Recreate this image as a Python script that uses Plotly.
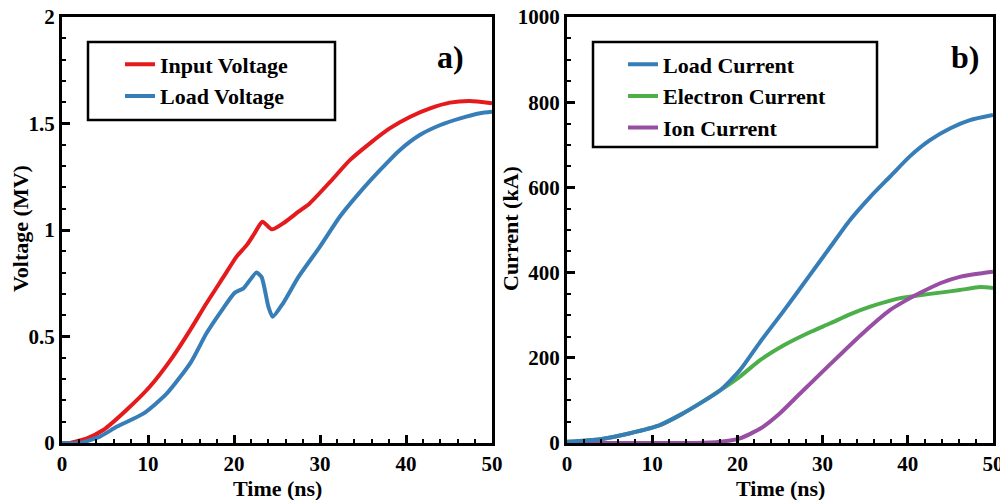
import plotly.graph_objects as go

# ---------------- data ----------------
t_vin = [0, 0.9, 2.9, 4.8, 7.5, 10.2, 12.8, 14.9, 16.8, 18.8, 20.3, 21.5, 22.4, 23.3, 24.4, 25.7, 27.5, 28.8,
         31.2, 33.5, 35.8, 38.1, 40.5, 42.8, 45.1, 47.4, 50]
v_in = [0, 0, 0.022, 0.061, 0.155, 0.264, 0.40, 0.53, 0.656, 0.781, 0.875, 0.93, 0.985, 1.039, 1.003, 1.031, 1.086, 1.125,
        1.227, 1.329, 1.407, 1.477, 1.532, 1.571, 1.598, 1.606, 1.595]

t_vload = [0, 2.1, 4.4, 6.4, 9.5, 12.2, 15.0, 16.8, 18.6, 20.1, 21.1, 22.6, 23.2, 24.0, 24.5, 25.7, 27.5, 30.0,
           32.3, 34.7, 37.0, 39.3, 41.6, 44.0, 46.3, 48.6, 50]
v_load = [0, 0, 0.03, 0.077, 0.139, 0.233, 0.38, 0.515, 0.624, 0.706, 0.726, 0.80, 0.78, 0.64, 0.593, 0.656, 0.78, 0.922,
          1.062, 1.18, 1.282, 1.376, 1.446, 1.493, 1.524, 1.548, 1.555]

t_iload = [0, 3.9, 7.4, 10.9, 13.3, 15.6, 18.0, 20.3, 22.7, 25.5, 28.5, 30.9, 33.2, 35.6, 37.9, 40.3, 42.6, 45.0, 47.3, 50]
i_load = [3, 9, 23, 42, 66, 93, 124, 171, 238, 312, 394, 460, 523, 578, 625, 674, 711, 739, 758, 770]

t_ielec = [0, 3.9, 7.4, 10.9, 13.3, 15.6, 18.0, 20.3, 22.7, 25.5, 28.5, 30.9, 33.2, 35.6, 39.1, 41.4, 43.8, 46.1, 48.5, 50]
i_elec = [3, 9, 23, 42, 66, 93, 124, 156, 195, 230, 260, 281, 302, 320, 340, 347, 353, 359, 366, 364]

t_iion = [0, 5, 10, 15, 18, 20.3, 22.7, 25.0, 27.3, 30.9, 34.4, 37.9, 39.9, 41.4, 43.8, 46.1, 48.5, 50]
i_ion = [0, 0, 0, 0, 3, 11, 34, 70, 115, 185, 252, 312, 336, 352, 375, 390, 398, 402]

x_ticks = [0, 10, 20, 30, 40, 50]
v_ticks = [0, 0.5, 1, 1.5, 2]
i_ticks = [0, 200, 400, 600, 800, 1000]

RED = "#e41a1c"
BLUE = "#377eb8"
GREEN = "#4daf4a"
PURPLE = "#984ea3"
FONT = '"Liberation Serif", "Times New Roman", Times, serif'

fig = go.Figure()
LW = 4


def line(color):
    return dict(color=color, width=LW, shape="spline", smoothing=0.6)


fig.add_trace(go.Scatter(x=t_vin, y=v_in, name="Input Voltage", mode="lines", line=line(RED),
                         xaxis="x", yaxis="y", legend="legend"))
fig.add_trace(go.Scatter(x=t_vload, y=v_load, name="Load Voltage", mode="lines", line=line(BLUE),
                         xaxis="x", yaxis="y", legend="legend"))
fig.add_trace(go.Scatter(x=t_ielec, y=i_elec, name="Electron Current", mode="lines", line=line(GREEN),
                         xaxis="x2", yaxis="y2", legend="legend2", legendrank=2))
fig.add_trace(go.Scatter(x=t_iion, y=i_ion, name="Ion Current", mode="lines", line=line(PURPLE),
                         xaxis="x2", yaxis="y2", legend="legend2", legendrank=3))
fig.add_trace(go.Scatter(x=t_iload, y=i_load, name="Load Current", mode="lines", line=line(BLUE),
                         xaxis="x2", yaxis="y2", legend="legend2", legendrank=1))

tickfont = dict(family=FONT, size=21, color="black", weight="bold")
titlefont = dict(family=FONT, size=22, color="black", weight="bold")


def axis(domain, rng, tickvals, minor_dtick, anchor, side=None, overlaying=None, labels=True):
    d = dict(range=rng, tickmode="array", tickvals=tickvals,
             showline=True, linewidth=3, linecolor="black", mirror=True,
             ticks="inside", ticklen=8, tickwidth=3, tickcolor="black",
             minor=dict(ticks="inside", ticklen=4, tickwidth=2, tickcolor="black",
                        dtick=minor_dtick, showgrid=False),
             showgrid=False, zeroline=False, tickfont=tickfont, showticklabels=labels,
             automargin=False, anchor=anchor, ticklabelstandoff=0, ticklabeloverflow="allow")
    if domain is not None:
        d["domain"] = domain
    if side:
        d["side"] = side
    if overlaying:
        d["overlaying"] = overlaying
    return d


xl = [0.062, 0.492]
xr = [0.567, 0.993]
yb = [0.114, 0.966]

ann = []
# axis titles
for xc, txt in [((xl[0] + xl[1]) / 2, "Time (ns)"), ((xr[0] + xr[1]) / 2, "Time (ns)")]:
    ann.append(dict(text=txt, xref="paper", yref="paper", x=xc, y=0.024, xanchor="center",
                    yanchor="middle", showarrow=False, font=titlefont))
for xc, txt in [(0.021, "Voltage (MV)"), (0.511, "Current (kA)")]:
    ann.append(dict(text=txt, xref="paper", yref="paper", x=xc, y=0.542, xanchor="center",
                    yanchor="middle", textangle=-90, showarrow=False, font=titlefont))
# panel labels
ann.append(dict(text="a)", xref="paper", yref="paper", x=0.45, y=0.886, xanchor="center", yanchor="middle",
                showarrow=False, font=dict(family=FONT, size=32, color="black", weight="bold")))
ann.append(dict(text="b)", xref="paper", yref="paper", x=0.965, y=0.886, xanchor="center", yanchor="middle",
                showarrow=False, font=dict(family=FONT, size=32, color="black", weight="bold")))

fig.update_layout(
    width=1000, height=500,
    margin=dict(l=0, r=0, t=0, b=0),
    paper_bgcolor="white", plot_bgcolor="white",
    xaxis=axis(xl, [0, 50], x_ticks, 2, "y"),
    yaxis=axis(yb, [0, 2], v_ticks, 0.1, "x"),
    xaxis2=axis(xr, [0, 50], x_ticks, 2, "y2"),
    yaxis2=axis(yb, [0, 1000], i_ticks, 50, "x2"),
    # mirrored tick axes (top / right)
    xaxis3=axis(None, [0, 50], x_ticks, 2, "y", side="top", overlaying="x", labels=False),
    yaxis3=axis(None, [0, 2], v_ticks, 0.1, "x", side="right", overlaying="y", labels=False),
    xaxis4=axis(None, [0, 50], x_ticks, 2, "y2", side="top", overlaying="x2", labels=False),
    yaxis4=axis(None, [0, 1000], i_ticks, 50, "x2", side="right", overlaying="y2", labels=False),
    legend=dict(x=0.12, y=0.913, xanchor="left", yanchor="top",
                bgcolor="rgba(0,0,0,0)", borderwidth=0,
                font=dict(family=FONT, size=22, color="black", weight="bold")),
    legend2=dict(x=0.623, y=0.913, xanchor="left", yanchor="top",
                 bgcolor="rgba(0,0,0,0)", borderwidth=0,
                 font=dict(family=FONT, size=22, color="black", weight="bold")),
    shapes=[
        dict(type="rect", xref="paper", yref="paper", x0=0.088, x1=0.335, y0=0.76, y1=0.916,
             line=dict(color="black", width=2.5), fillcolor="rgba(0,0,0,0)", layer="above"),
        dict(type="rect", xref="paper", yref="paper", x0=0.593, x1=0.877, y0=0.706, y1=0.916,
             line=dict(color="black", width=2.5), fillcolor="rgba(0,0,0,0)", layer="above"),
    ],
    annotations=ann,
)

fig.write_html("out.html")
